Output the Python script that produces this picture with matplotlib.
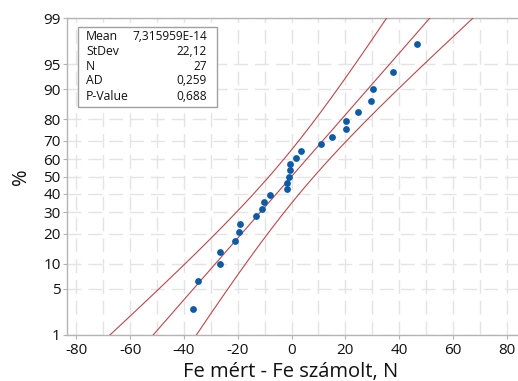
import matplotlib
matplotlib.use("Agg")
import matplotlib.pyplot as plt
import matplotlib.patches as mpatches
import numpy as np
from statistics import NormalDist

# ---- data ----
diff_values = [-36.6, -34.9, -26.7, -26.7, -21.0, -19.6, -19.3, -13.2, -10.8,
               -10.4, -8.0, -1.6, -1.7, -1.0, -0.6, -0.6, 1.5, 3.6, 10.9,
               14.9, 20.1, 20.1, 24.6, 29.4, 30.3, 37.7, 46.5]
stat_mean = 7.315959e-14
stat_sd = 22.12
stat_n = 27
stats_labels = ["Mean", "StDev", "N", "AD", "P-Value"]
stats_values = ["7,315959E-14", "22,12", "27", "0,259", "0,688"]
pct_ticks = [1, 5, 10, 20, 30, 40, 50, 60, 70, 80, 90, 95, 99]
x_ticks = [-80, -60, -40, -20, 0, 20, 40, 60, 80]
x_minor = list(range(-80, 81, 10))
x_label = "Fe mért - Fe számolt, N"
y_label = "%"

plt.rcParams["font.family"] = ["Open Sans", "DejaVu Sans"]
plt.rcParams["axes.unicode_minus"] = False

nd = NormalDist()
W, H = 518, 381
fig = plt.figure(figsize=(W / 100, H / 100), dpi=100)
ax = fig.add_axes([67 / W, 46 / H, 452 / W, 317 / H])

xs = np.sort(np.array(diff_values))
n = len(xs)
ranks = np.arange(1, n + 1)
probs = (ranks - 0.3) / (n + 0.4)
zs = np.array([nd.inv_cdf(p) for p in probs])

# fitted line and 95% CI bands
zz = np.linspace(-3.2, 3.2, 300)
xfit = stat_mean + zz * stat_sd
se = stat_sd * np.sqrt((1 + zz ** 2 / 2) / stat_n)
line_col = "#b8484c"
ax.plot(xfit, zz, color=line_col, lw=0.8, zorder=3)
ax.plot(xfit - 1.96 * se, zz, color=line_col, lw=0.8, zorder=3)
ax.plot(xfit + 1.96 * se, zz, color=line_col, lw=0.8, zorder=3)

ax.scatter(xs, zs, s=24, color="#0d5aa5", zorder=4, linewidths=0)

ax.set_xlim(-83.5, 84.6)
ax.set_ylim(nd.inv_cdf(0.01), nd.inv_cdf(0.99))

ax.set_xticks(x_ticks)
ax.set_xticklabels([str(v) for v in x_ticks])
ax.set_xticks(x_minor, minor=True)
ax.set_yticks([nd.inv_cdf(p / 100) for p in pct_ticks])
ax.set_yticklabels([str(p) for p in pct_ticks])

grid_kw = dict(color="#e4e4e4", lw=1.0, linestyle=(0, (10, 5)))
ax.grid(True, which="major", axis="y", **grid_kw)
ax.grid(True, which="both", axis="x", **grid_kw)
ax.set_axisbelow(True)

for side in ["left", "bottom", "top"]:
    ax.spines[side].set_color("#b4b4b4")
    ax.spines[side].set_linewidth(1.0)
ax.spines["right"].set_visible(False)

ax.tick_params(axis="both", which="major", direction="out", length=3,
               color="#b4b4b4", labelsize=11, labelcolor="#111111")
ax.tick_params(axis="y", pad=1.5)
ax.tick_params(axis="x", pad=3)
ax.tick_params(axis="x", which="minor", length=0)

fig.text(291 / W, 1 - 372 / H, x_label, ha="center", va="center",
         fontsize=14.5, color="#111111")
fig.text(21 / W, 1 - 177 / H, y_label, ha="center", va="center",
         rotation=90, fontsize=14.5, color="#111111")

# statistics box
box = mpatches.Rectangle((78 / W, 1 - 107 / H), 139 / W, 80 / H,
                         transform=fig.transFigure, facecolor="white",
                         edgecolor="#a0a0a0", lw=1.0, zorder=10)
fig.add_artist(box)
row_y = [36.7, 51.7, 66.3, 81.0, 96.3]
for lab, val, yy in zip(stats_labels, stats_values, row_y):
    fig.text(86 / W, 1 - yy / H, lab, ha="left", va="center", fontsize=8.8,
             color="#111111", zorder=11)
    fig.text(207 / W, 1 - yy / H, val, ha="right", va="center", fontsize=8.6,
             color="#111111", zorder=11)

fig.savefig("out.png", dpi=100)
